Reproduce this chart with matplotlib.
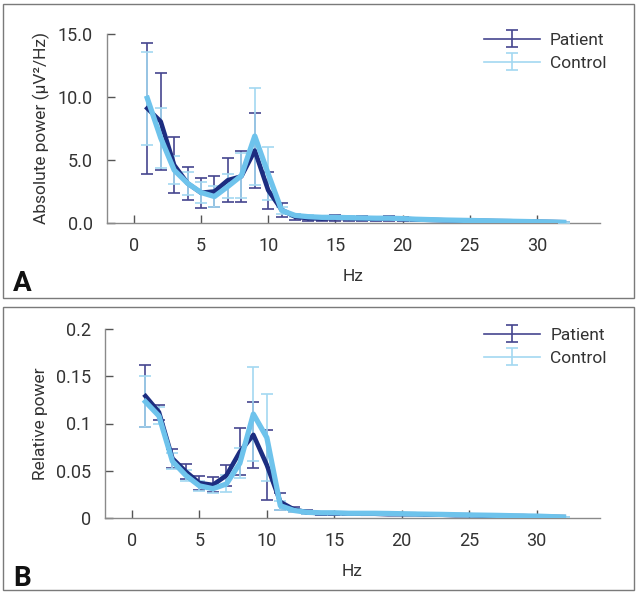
import numpy as np
import matplotlib.pyplot as plt
from matplotlib.patches import Rectangle

plt.rcParams['font.family'] = ['Roboto', 'DejaVu Sans']

# Frequency bins (Hz)
hz = np.arange(1, 33)

# Panel A: absolute power (uV^2/Hz)
abs_patient = [9.1, 8.05, 4.6, 3.15, 2.4, 2.5, 3.4, 3.7, 5.75, 2.6, 1.05,
               0.5, 0.38, 0.35, 0.4, 0.38, 0.35, 0.33, 0.35, 0.33, 0.28, 0.25,
               0.22, 0.2, 0.18, 0.17, 0.15, 0.14, 0.12, 0.1, 0.08, 0.06]
abs_patient_err = [5.2, 3.85, 2.25, 1.3, 1.2, 1.2, 1.75, 2.0, 3.0, 1.45, 0.55,
                   0.25, 0.2, 0.2, 0.25, 0.2, 0.18, 0.16, 0.18, 0.16, 0.12, 0.1,
                   0.1, 0.08, 0.08, 0.07, 0.06, 0.06, 0.05, 0.05, 0.04, 0.03]
abs_control = [9.9, 6.75, 4.2, 3.15, 2.42, 2.1, 2.9, 3.75, 6.9, 3.9, 1.0,
               0.6, 0.5, 0.45, 0.45, 0.42, 0.4, 0.38, 0.38, 0.35, 0.3, 0.27,
               0.24, 0.22, 0.2, 0.18, 0.16, 0.14, 0.12, 0.1, 0.08, 0.05]
abs_control_err = [3.7, 2.35, 1.13, 0.9, 0.86, 0.8, 0.95, 1.8, 3.85, 2.1, 0.3,
                   0.15, 0.12, 0.1, 0.1, 0.1, 0.09, 0.08, 0.08, 0.08, 0.07, 0.06,
                   0.05, 0.05, 0.04, 0.04, 0.04, 0.03, 0.03, 0.03, 0.02, 0.02]

# Panel B: relative power
rel_patient = [0.129, 0.112, 0.063, 0.049, 0.037, 0.035, 0.045, 0.07, 0.088, 0.056, 0.017,
               0.009, 0.006, 0.005, 0.005, 0.005, 0.0045, 0.0045, 0.004, 0.004, 0.004, 0.0035,
               0.0035, 0.003, 0.003, 0.0025, 0.0025, 0.002, 0.002, 0.0015, 0.0012, 0.001]
rel_patient_err = [0.033, 0.008, 0.01, 0.008, 0.007, 0.008, 0.011, 0.025, 0.035, 0.037, 0.009,
                   0.003, 0.002, 0.0015, 0.0015, 0.0015, 0.0012, 0.0012, 0.001, 0.001, 0.001, 0.001,
                   0.001, 0.001, 0.0008, 0.0008, 0.0008, 0.0006, 0.0006, 0.0005, 0.0005, 0.0004]
rel_control = [0.123, 0.108, 0.06, 0.045, 0.034, 0.031, 0.036, 0.058, 0.11, 0.085, 0.013,
               0.008, 0.006, 0.0055, 0.0055, 0.005, 0.005, 0.005, 0.0048, 0.0045, 0.0042, 0.004,
               0.0038, 0.0035, 0.0032, 0.003, 0.0028, 0.0025, 0.0022, 0.002, 0.0015, 0.001]
rel_control_err = [0.027, 0.009, 0.0085, 0.006, 0.005, 0.005, 0.009, 0.016, 0.05, 0.046, 0.005,
                   0.002, 0.0015, 0.0012, 0.0012, 0.001, 0.001, 0.001, 0.001, 0.001, 0.0009, 0.0008,
                   0.0008, 0.0007, 0.0007, 0.0006, 0.0006, 0.0005, 0.0005, 0.0004, 0.0004, 0.0003]

# colours
pat_line = '#1c2d80'
pat_err = '#45468f'
con_line = '#6ec3ec'
con_err = '#a3d8f1'
axis_grey = '#8a8a8a'

W, H = 638, 596
fig = plt.figure(figsize=(W / 100, H / 100), dpi=100)


def px_axes(left, top, right, bottom):
    return fig.add_axes([left / W, 1 - bottom / H, (right - left) / W, (bottom - top) / H])


def draw_panel(ax, yp, yp_err, yc, yc_err, ylim, yticks, yticklabels, ylabel):
    ax.errorbar(hz, yp, yerr=yp_err, color=pat_err, lw=1.2, capsize=4,
                capthick=1.2, elinewidth=1.2, label='Patient', zorder=2)
    ax.errorbar(hz, yc, yerr=yc_err, color=con_err, lw=1.2, capsize=4,
                capthick=1.2, elinewidth=1.2, label='Control', zorder=3)
    ax.plot(hz, yp, color=pat_line, lw=3.3, zorder=4)
    ax.plot(hz, yc, color=con_line, lw=3.8, zorder=5)
    ax.set_xlim(-2, 34.7)
    ax.set_ylim(*ylim)
    ax.set_xticks([0, 5, 10, 15, 20, 25, 30])
    ax.set_yticks(yticks)
    ax.set_yticklabels(yticklabels)
    for s in ['top', 'right']:
        ax.spines[s].set_visible(False)
    for s in ['left', 'bottom']:
        ax.spines[s].set_color(axis_grey)
        ax.spines[s].set_linewidth(1.0)
    ax.tick_params(direction='in', length=6, width=1, color='#555555',
                   labelsize=13, labelcolor='#333333', pad=10)
    ax.set_xlabel('Hz', fontsize=12.5, color='#333333', labelpad=10)
    ax.set_ylabel(ylabel, fontsize=12.5, color='#333333', labelpad=6)
    leg = ax.legend(loc='upper right', bbox_to_anchor=(1.045, 1.09), frameon=False,
                    fontsize=12.5, handlelength=3.2, handletextpad=0.6,
                    labelspacing=0.45)
    for t in leg.get_texts():
        t.set_color('#333333')


axA = px_axes(107, 34, 600, 223)
draw_panel(axA, abs_patient, abs_patient_err, abs_control, abs_control_err,
           (0, 15), [0, 5, 10, 15], ['0.0', '5.0', '10.0', '15.0'],
           'Absolute power (μV²/Hz)')

axB = px_axes(105, 329, 600, 518)
draw_panel(axB, rel_patient, rel_patient_err, rel_control, rel_control_err,
           (0, 0.2), [0, 0.05, 0.1, 0.15, 0.2], ['0', '0.05', '0.1', '0.15', '0.2'],
           'Relative power')

# panel frames and letters
for top, bottom, letter, ly in [(4, 298, 'A', 283), (307, 590, 'B', 578)]:
    fig.patches.append(Rectangle((3 / W, 1 - bottom / H), (634 - 3) / W, (bottom - top) / H,
                                 transform=fig.transFigure, fill=False,
                                 edgecolor='#7a7a7a', lw=1.0))
    fig.text(13 / W, 1 - ly / H, letter, fontsize=20, fontweight='bold',
             va='center', ha='left', color='#111111')

fig.savefig('out.png', dpi=100)
